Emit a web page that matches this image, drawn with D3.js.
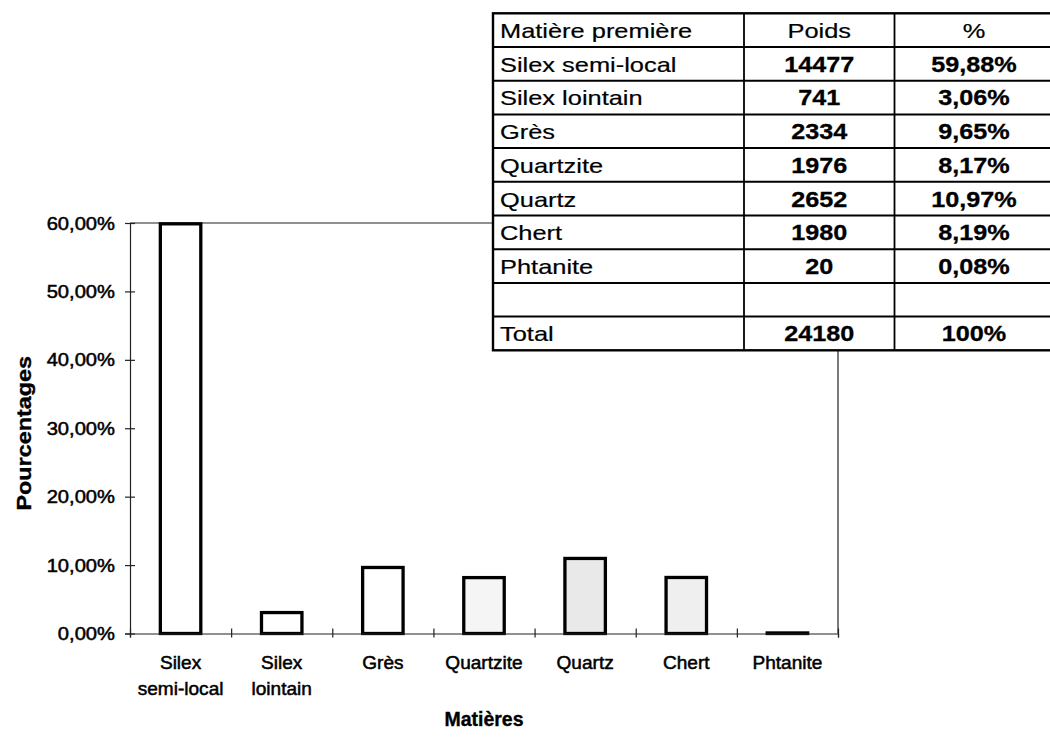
<!DOCTYPE html>
<html lang="fr">
<head>
<meta charset="utf-8">
<title>Matières premières</title>
<script src="https://cdn.jsdelivr.net/npm/d3@7"></script>
<style>
  html, body { margin: 0; padding: 0; background: #fff; }
  svg { display: block; }
  text { font-family: Arial, "Liberation Sans", Helvetica, sans-serif; fill: #000; stroke: #000; stroke-width: 0.35px; }
</style>
</head>
<body>
<svg id="chart" width="1050" height="738"></svg>
<script>
// ---- Data ----
const categories = ["Silex semi-local", "Silex lointain", "Grès", "Quartzite", "Quartz", "Chert", "Phtanite"];
const poids = [14477, 741, 2334, 1976, 2652, 1980, 20];
const pourcentages = [59.88, 3.06, 9.65, 8.17, 10.97, 8.19, 0.08];
const yTicks = [0, 10, 20, 30, 40, 50, 60];
const tableHeaders = ["Matière première", "Poids", "%"];
const totalLabel = "Total";
const totalPourcentage = 100;
const xTitle = "Matières";
const yTitle = "Pourcentages";

// ---- Styles ----
const barFill = { "Quartzite": "#f5f5f5", "Quartz": "#e9e9e9", "Chert": "#efefef" };

const fr = d3.formatLocale({ decimal: ",", thousands: " ", grouping: [3], currency: ["", " €"] });
const pct2 = v => fr.format(".2f")(v) + "%";
const pct0 = v => fr.format("d")(v) + "%";

const svg = d3.select("#chart");

// Text helper: horizontal stretch applied in the text's own frame
function label(g, x, y, str, opts) {
  const o = Object.assign({ size: 18, weight: "normal", anchor: "start", sx: 1, rotate: 0, stroke: 0.35 }, opts || {});
  let tf = `translate(${x},${y})`;
  if (o.rotate) tf += ` rotate(${o.rotate})`;
  tf += ` scale(${o.sx},1)`;
  return g.append("text")
    .attr("transform", tf)
    .attr("text-anchor", o.anchor)
    .style("font-size", o.size + "px")
    .style("font-weight", o.weight)
    .style("stroke-width", o.stroke + "px")
    .text(str);
}

// ---- Chart ----
const plot = { left: 130, right: 838, top: 223, bottom: 633.5 };

const x = d3.scaleBand()
  .domain(categories)
  .range([plot.left, plot.right])
  .paddingInner(0.6)
  .paddingOuter(0.3);

const xEdge = d3.scaleLinear()
  .domain([0, categories.length])
  .range([plot.left, plot.right]);

const y = d3.scaleLinear()
  .domain([0, 60])
  .range([plot.bottom, plot.top]);

const chart = svg.append("g");

// plot frame (top and right edges)
chart.append("path")
  .attr("d", `M${plot.left},${y(60)}H${plot.right}V${y(0)}`)
  .attr("fill", "none")
  .attr("stroke", "#222")
  .attr("stroke-width", 1.2);

// bars
chart.append("g").selectAll("rect")
  .data(categories.map((c, i) => ({ c, v: pourcentages[i] })))
  .join("rect")
  .attr("x", d => x(d.c))
  .attr("width", x.bandwidth())
  .attr("y", d => y(d.v))
  .attr("height", d => y(0) - y(d.v))
  .attr("fill", d => barFill[d.c] || "#fff")
  .attr("stroke", "#000")
  .attr("stroke-width", 3.3);

// y axis
const yAxis = chart.append("g")
  .attr("transform", `translate(${plot.left},0)`)
  .call(d3.axisLeft(y).tickValues(yTicks).tickSize(5).tickFormat(""));
yAxis.select(".domain").attr("stroke", "#222").attr("stroke-width", 1.2);
yAxis.selectAll(".tick line").attr("x1", 5).attr("x2", -5).attr("stroke", "#222").attr("stroke-width", 1.2);
yTicks.forEach(t => label(chart, 115, y(t) + 6.5, pct2(t), { size: 18, anchor: "end", sx: 1.12, stroke: 0.5 }));

// x axis with ticks on category boundaries
const xAxis = chart.append("g")
  .attr("transform", `translate(0,${plot.bottom})`)
  .call(d3.axisBottom(xEdge).tickValues(d3.range(categories.length + 1)).tickSize(4).tickFormat(""));
xAxis.select(".domain").attr("stroke", "#222").attr("stroke-width", 1.2);
xAxis.selectAll(".tick line").attr("y1", -5).attr("y2", 4).attr("stroke", "#222").attr("stroke-width", 1.2);

categories.forEach(c => {
  const cx = x(c) + x.bandwidth() / 2;
  const sp = c.indexOf(" ");
  const lines = sp > 0 ? [c.slice(0, sp), c.slice(sp + 1)] : [c];
  lines.forEach((ln, k) => label(chart, cx, 669 + k * 26, ln, { size: 18, anchor: "middle", sx: 1.06, stroke: 0.5 }));
});

// axis titles
label(chart, (plot.left + plot.right) / 2, 726, xTitle, { size: 19.5, weight: "bold", anchor: "middle" });
label(chart, 31, (plot.top + plot.bottom) / 2 + 5, yTitle, { size: 19.5, weight: "bold", anchor: "middle", rotate: -90, sx: 1.2 });

// ---- Data table ----
const tbl = { left: 493, top: 13.3, rowH: 33.7, cols: [493, 744, 894.5, 1060] };
const rows = [];
rows.push({ cells: tableHeaders, bold: false });
categories.forEach((c, i) => rows.push({ cells: [c, String(poids[i]), pct2(pourcentages[i])], bold: true }));
rows.push({ cells: ["", "", ""], bold: false });
rows.push({ cells: [totalLabel, String(d3.sum(poids)), pct0(totalPourcentage)], bold: true });

const tg = svg.append("g");
const tBottom = tbl.top + rows.length * tbl.rowH;
tg.append("rect")
  .attr("x", tbl.left).attr("y", tbl.top)
  .attr("width", tbl.cols[3] - tbl.left).attr("height", tBottom - tbl.top)
  .attr("fill", "#fff").attr("stroke", "#000").attr("stroke-width", 2.4);

d3.range(1, rows.length).forEach(r => {
  tg.append("line")
    .attr("x1", tbl.left).attr("x2", tbl.cols[3])
    .attr("y1", tbl.top + r * tbl.rowH).attr("y2", tbl.top + r * tbl.rowH)
    .attr("stroke", "#000").attr("stroke-width", 2);
});
[tbl.cols[1], tbl.cols[2]].forEach(cx => {
  tg.append("line")
    .attr("x1", cx).attr("x2", cx)
    .attr("y1", tbl.top).attr("y2", tBottom)
    .attr("stroke", "#000").attr("stroke-width", 1.8);
});

const colText = [tbl.left + 7, (tbl.cols[1] + tbl.cols[2]) / 2, 974];
rows.forEach((row, r) => {
  const base = tbl.top + (r + 1) * tbl.rowH - 9;
  row.cells.forEach((txt, k) => {
    if (!txt) return;
    const isNum = k > 0 && row.bold;
    label(tg, colText[k], base, txt, {
      size: isNum ? 22.5 : 20.5,
      weight: isNum ? "bold" : "normal",
      anchor: k === 0 ? "start" : "middle",
      sx: isNum ? 1.12 : 1.24,
      stroke: isNum ? 0.3 : 0.2
    });
  });
});
</script>
</body>
</html>
